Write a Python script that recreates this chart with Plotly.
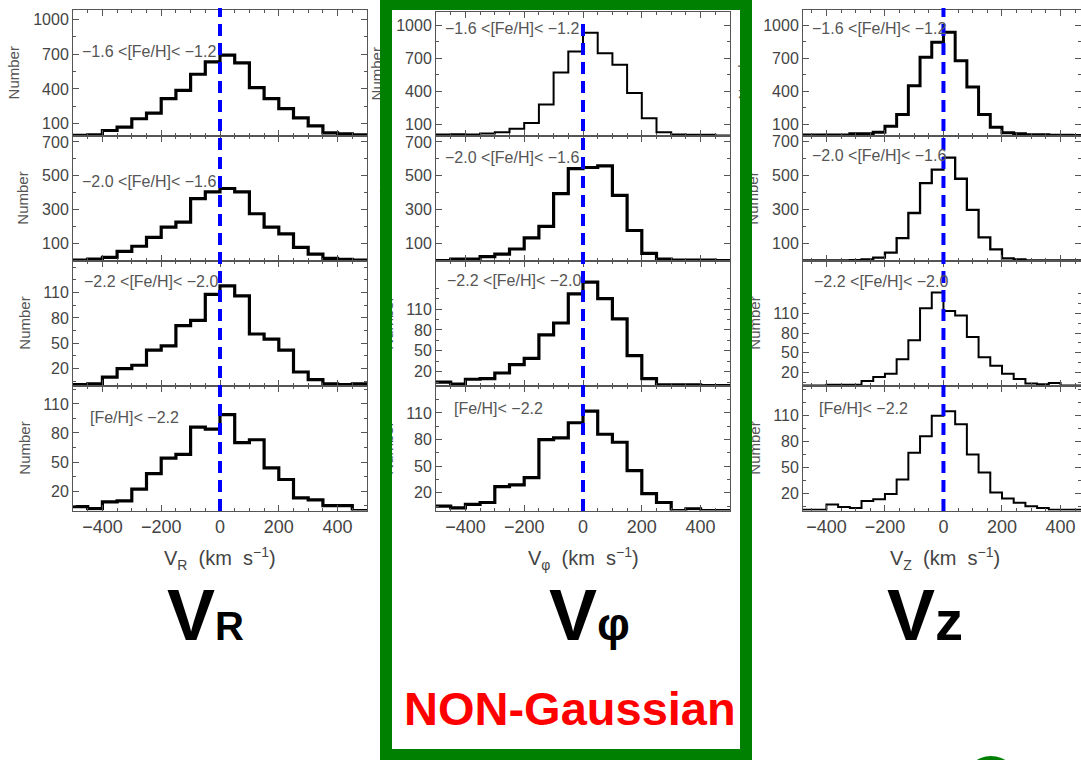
import plotly.graph_objects as go

# ---------------- data (counts per bin) ----------------
# V_R and V_phi: bins of 50 km/s from -500 to 500 ; V_Z: bins of 40 km/s from -480 to 480
vr_bin_start, vr_bin_width = -500, 50
vp_bin_start, vp_bin_width = -500, 50
vz_bin_start, vz_bin_width = -480, 40

feh_labels = ["−1.6 <[Fe/H]< −1.2", "−2.0 <[Fe/H]< −1.6", "−2.2 <[Fe/H]< −2.0", "[Fe/H]< −2.2"]

vr_m16_m12 = [2, 6, 43, 72, 144, 193, 316, 388, 526, 633, 690, 624, 411, 316, 230, 152, 83, 23, 14, 6]
vr_m20_m16 = [3, 9, 19, 54, 84, 137, 197, 227, 365, 405, 425, 405, 276, 197, 157, 78, 38, 13, 7, 3]
vr_m22_m20 = [1, 2, 10, 20, 24, 42, 47, 71, 77, 108, 118, 106, 61, 55, 42, 16, 7, 2, 1, 2]
vr_lt_m22 = [4, 2, 9, 10, 22, 38, 54, 58, 86, 84, 99, 70, 73, 44, 32, 13, 11, 5, 5, 0]

vp_m16_m12 = [8, 12, 10, 18, 30, 60, 114, 280, 570, 760, 930, 745, 640, 384, 156, 30, 9, 6, 6, 0]
vp_m20_m16 = [0, 9, 9, 23, 38, 68, 133, 201, 395, 543, 549, 559, 385, 177, 42, 9, 2, 2, 2, 0]
vp_m22_m20 = [5, 2, 9, 10, 18, 30, 39, 73, 90, 132, 149, 125, 96, 43, 10, 1, 1, 1, 0, 0]
vp_lt_m22 = [5, 3, 7, 9, 27, 29, 37, 80, 82, 99, 112, 86, 77, 45, 19, 9, 0, 2, 0, 0]

vz_m16_m12 = [5, 5, 5, 5, 15, 15, 30, 84, 189, 450, 709, 844, 934, 676, 438, 189, 75, 24, 15, 6, 6, 3, 3, 0]
vz_m20_m16 = [1, 1, 1, 1, 2, 7, 17, 47, 132, 280, 456, 536, 607, 482, 298, 136, 66, 13, 7, 1, 1, 1, 1, 1]
vz_m22_m20 = [0, 0, 1, 1, 1, 7, 13, 18, 40, 69, 118, 142, 114, 107, 74, 43, 30, 18, 10, 3, 2, 4, 0, 0]
vz_lt_m22 = [1, 1, 7, 4, 3, 11, 13, 19, 36, 67, 86, 110, 115, 100, 65, 44, 21, 14, 9, 5, 3, 1, 1, 1]

x_tick_vals = [-400, -200, 0, 200, 400]
y_tick_vals = [[100, 400, 700, 1000], [100, 300, 500, 700], [20, 50, 80, 110], [20, 50, 80, 110]]
y_minor_vals = [list(range(100, 1100, 150)), list(range(100, 800, 100)),
                list(range(5, 150, 15)), list(range(5, 150, 15))]

axis_titles = ["V<sub>R</sub>  (km  s<sup>−1</sup>)", "V<sub>φ</sub>  (km  s<sup>−1</sup>)", "V<sub>Z</sub>  (km  s<sup>−1</sup>)"]
big_labels = ["<b>V<span style=\"font-size:40px\">R</span></b>",
              "<b>V<span style=\"font-size:46px\">φ</span></b>",
              "<b>V<span style=\"font-size:56px\">z</span></b>"]

# ---------------- layout geometry (pixels) ----------------
W, H = 1081, 760
columns = [
    dict(x0=73, x1=367, xr=[-500, 500], start=vr_bin_start, width=vr_bin_width,
         data=[vr_m16_m12, vr_m20_m16, vr_m22_m20, vr_lt_m22],
         yr=[1078, 738, 148, 129], lw=[3.2, 3.2, 3.2, 3.2], top=10),
    dict(x0=436, x1=730, xr=[-500, 500], start=vp_bin_start, width=vp_bin_width,
         data=[vp_m16_m12, vp_m20_m16, vp_m22_m20, vp_lt_m22],
         yr=[1118, 738, 180, 141], lw=[2.0, 3.2, 3.2, 3.2], top=12),
    dict(x0=803, x1=1081, xr=[-480, 470], start=vz_bin_start, width=vz_bin_width,
         data=[vz_m16_m12, vz_m20_m16, vz_m22_m20, vz_lt_m22],
         yr=[1136, 737, 191, 145], lw=[3.0, 2.3, 2.0, 2.0], top=10),
]
rows = [(10, 135.5), (135.5, 260.5), (260.5, 385.5), (385.5, 510.5)]
feh_pos = [
    [(80, 52), (80, 182), (82, 282), (88, 417)],
    [(443, 29), (443, 157), (445, 280), (452, 408)],
    [(810, 28), (810, 155), (812, 282), (817, 408)],
]

def fx(X):
    return X / W

def fy(Y):
    return 1 - Y / H

FONT = "Liberation Sans, Arial, Helvetica, sans-serif"
AX_COL = "#555555"
TXT_COL = "#444444"

fig = go.Figure()
layout = dict(
    width=W, height=H, margin=dict(l=0, r=0, t=0, b=0, autoexpand=False),
    paper_bgcolor="white", plot_bgcolor="white", showlegend=False,
    font=dict(family=FONT, color=TXT_COL),
)
annotations = []
shapes = []

for c, col in enumerate(columns):
    for r in range(4):
        k = r * 3 + c + 1
        counts = col["data"][r]
        edges = [col["start"] + i * col["width"] for i in range(len(counts) + 1)]
        ys = counts + [counts[-1]]
        fig.add_trace(go.Scatter(
            x=edges, y=ys, mode="lines",
            line=dict(shape="hv", color="black", width=col["lw"][r]),
            xaxis=f"x{k}", yaxis=f"y{k}", hoverinfo="skip"))
        top = col["top"] if r == 0 else rows[r][0]
        bot = rows[r][1]
        layout[f"xaxis{k}"] = dict(
            domain=[fx(col["x0"]), fx(col["x1"])], range=col["xr"], anchor=f"y{k}",
            showline=True, linecolor=AX_COL, linewidth=1, mirror="ticks",
            ticks="inside", ticklen=6, tickcolor=AX_COL, tickwidth=1,
            tickmode="array", tickvals=x_tick_vals,
            minor=dict(ticks="inside", ticklen=3, tickcolor=AX_COL, tickmode="linear", tick0=0, dtick=50),
            showticklabels=(r == 3), tickfont=dict(size=18, color=TXT_COL, family=FONT),
            showgrid=False, zeroline=False, fixedrange=True, automargin=False)
        layout[f"yaxis{k}"] = dict(
            domain=[fy(bot), fy(top)], range=[0, col["yr"][r]], anchor=f"x{k}",
            showline=True, linecolor=AX_COL, linewidth=1, mirror="ticks",
            ticks="inside", ticklen=6, tickcolor=AX_COL, tickwidth=1,
            tickmode="array", tickvals=y_tick_vals[r],
            minor=dict(ticks="inside", ticklen=3, tickcolor=AX_COL, tickmode="array", tickvals=y_minor_vals[r]),
            tickfont=dict(size=16, color=TXT_COL, family=FONT),
            title=dict(text="Number", font=dict(size=15, color="#555555", family=FONT), standoff=9),
            showgrid=False, zeroline=False, fixedrange=True, automargin=False)

# green frame around the middle column (annotations drawn above the axis titles)
GREEN = "#008000"
for (X0, Y0, w, h) in [(380, 0, 12, 760), (740, 0, 12, 760), (380, 0, 372, 10), (380, 749, 372, 11)]:
    annotations.append(dict(
        x=fx(X0), y=fy(Y0), xref="paper", yref="paper", xanchor="left", yanchor="top",
        text="&#160;", font=dict(size=8, color=GREEN), showarrow=False,
        width=w, height=h, bgcolor=GREEN, borderpad=0, borderwidth=0))

# metallicity labels
for c in range(3):
    for r in range(4):
        X, Y = feh_pos[c][r]
        annotations.append(dict(
            x=fx(X), y=fy(Y), xref="paper", yref="paper", xanchor="left", yanchor="middle",
            text=feh_labels[r], showarrow=False,
            font=dict(size=16, color="#555555", family=FONT)))

# axis titles
for c, col in enumerate(columns):
    cx = (col["x0"] + col["x1"]) / 2 if c < 2 else 945
    annotations.append(dict(
        x=fx(cx), y=fy(558), xref="paper", yref="paper", xanchor="center", yanchor="middle",
        text=axis_titles[c], showarrow=False,
        font=dict(size=20, color=TXT_COL, family=FONT)))

# big labels
for X, txt in zip([165, 547, 885], big_labels):
    annotations.append(dict(
        x=fx(X), y=fy(615), xref="paper", yref="paper", xanchor="left", yanchor="middle",
        text=txt, showarrow=False, font=dict(size=72, color="black", family=FONT)))

annotations.append(dict(
    x=fx(570), y=fy(708), xref="paper", yref="paper", xanchor="center", yanchor="middle",
    text="<b>NON-Gaussian</b>", showarrow=False, font=dict(size=47, color="#ff0000", family=FONT)))

# blue dashed zero lines
for c, (ytop) in enumerate([8, 20, 8]):
    shapes.append(dict(
        type="line", xref=f"x{9 + c + 1}", yref="paper", x0=0, x1=0, y0=fy(511), y1=fy(ytop),
        line=dict(color="#0000ff", width=4, dash="12px,7px"), layer="above"))

# partial green logo circle at bottom right
shapes.append(dict(type="circle", xref="paper", yref="paper",
                   x0=fx(964), x1=fx(1018), y0=fy(809), y1=fy(756),
                   fillcolor=GREEN, line=dict(width=0), layer="above"))

layout["annotations"] = annotations
layout["shapes"] = shapes
fig.update_layout(**layout)
fig.write_html("out.html")
